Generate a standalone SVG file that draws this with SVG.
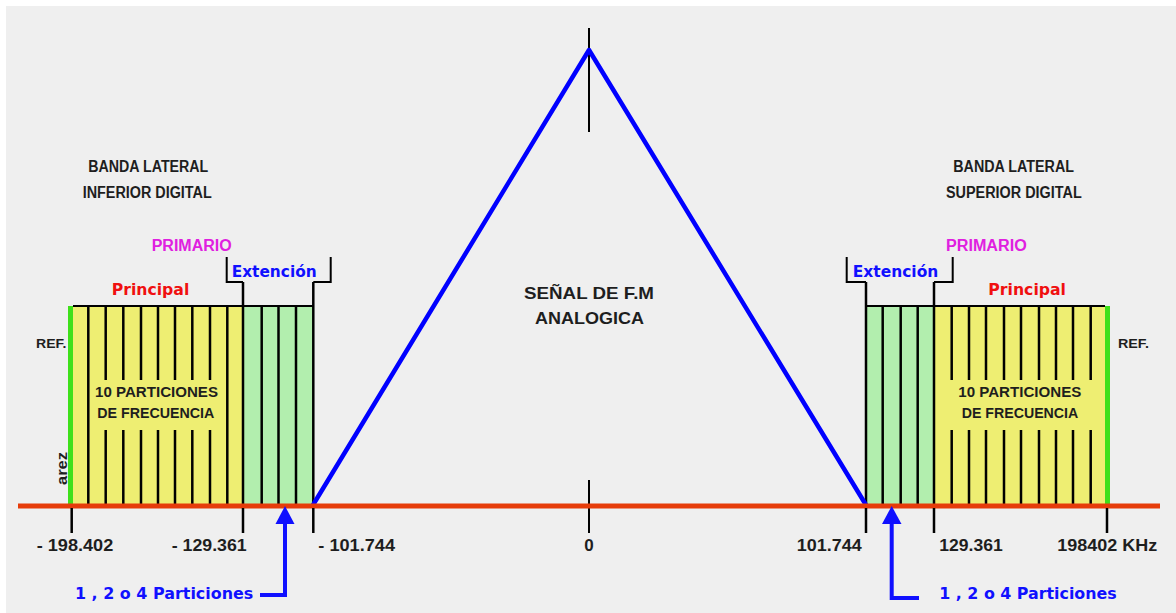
<svg xmlns="http://www.w3.org/2000/svg" width="1176" height="613" viewBox="0 0 1176 613">
<style>
.lbl{font-family:"Liberation Sans",Arial,sans-serif;font-weight:bold;fill:#1e1e1e}
.blue{font-family:"DejaVu Sans","Liberation Sans",sans-serif;font-weight:bold;fill:#1010ff}
.red{font-family:"DejaVu Sans","Liberation Sans",sans-serif;font-weight:bold;fill:#f01010}
.mag{font-family:"Liberation Sans",Arial,sans-serif;font-weight:bold;fill:#e020e0}
.ln{stroke:#000;stroke-width:2.5;fill:none}
.thin{stroke:#000;stroke-width:2;fill:none}
.yel{fill:#eeee72}
.grn{fill:#b2eeae}
.bar{fill:#3ee01a}
.arr{stroke:#1010ff;stroke-width:4;fill:none}
.head{fill:#1010ff}
</style>
<rect x="0" y="0" width="1176" height="613" fill="#ffffff"/>
<rect x="6" y="6" width="1170" height="607" fill="#efefef"/>

<g id="lower-band">
  <rect class="yel" x="73" y="306" width="170" height="199"/>
  <rect class="grn" x="243" y="306" width="70" height="199"/>
  <rect class="bar" x="68" y="306" width="5" height="199"/>
  <path class="thin" d="M73 306 H313"/>
  <path class="ln" d="M88.3 306 V505 M227.3 306 V505 M243 282 V505 M261.7 306 V505 M278.5 306 V505 M296 306 V505 M313.3 282 V505"/>
  <path class="ln" d="M105.7 306 V380 M123.3 306 V380 M141 306 V380 M158 306 V380 M175 306 V380 M192.3 306 V380 M210 306 V380"/>
  <path class="ln" d="M105.7 430 V505 M123.3 430 V505 M141 430 V505 M158 430 V505 M175 430 V505 M192.3 430 V505 M210 430 V505"/>
  <path class="thin" d="M226.7 257 V282 H243 M330.7 257 V282 H313.3"/>
  <text class="lbl" x="95" y="397.3" font-size="14" textLength="123" lengthAdjust="spacingAndGlyphs">10 PARTICIONES</text>
  <text class="lbl" x="97.3" y="418.3" font-size="14" textLength="117" lengthAdjust="spacingAndGlyphs">DE FRECUENCIA</text>
  <text class="lbl" x="36" y="348.3" font-size="13" textLength="30.5" lengthAdjust="spacingAndGlyphs">REF.</text>
  <text class="lbl" transform="translate(67,485) rotate(-90)" font-size="15" textLength="33" lengthAdjust="spacingAndGlyphs">arez</text>
  <text class="lbl" x="88.3" y="172.3" font-size="16" textLength="120" lengthAdjust="spacingAndGlyphs">BANDA LATERAL</text>
  <text class="lbl" x="82.7" y="198.3" font-size="16" textLength="129" lengthAdjust="spacingAndGlyphs">INFERIOR DIGITAL</text>
  <text class="mag" x="151.7" y="250.7" font-size="16" textLength="80" lengthAdjust="spacingAndGlyphs">PRIMARIO</text>
  <text class="red" x="111.7" y="295" font-size="16" textLength="77.6" lengthAdjust="spacingAndGlyphs">Principal</text>
  <text class="blue" x="231.7" y="276.7" font-size="15" textLength="85" lengthAdjust="spacingAndGlyphs">Extención</text>
</g>

<g id="upper-band">
  <rect class="grn" x="866" y="306" width="68" height="199"/>
  <rect class="yel" x="934" y="306" width="171" height="199"/>
  <rect class="bar" x="1105" y="306" width="5" height="199"/>
  <path class="thin" d="M866 306 H1105"/>
  <path class="ln" d="M866 282 V505 M882.7 306 V505 M900.7 306 V505 M917.7 306 V505 M934 282 V505"/>
  <path class="ln" d="M951.7 306 V380 M969 306 V380 M986 306 V380 M1004 306 V380 M1021 306 V380 M1039 306 V380 M1056 306 V380 M1073 306 V380 M1090.7 306 V380"/>
  <path class="ln" d="M951.7 430 V505 M969 430 V505 M986 430 V505 M1004 430 V505 M1021 430 V505 M1039 430 V505 M1056 430 V505 M1073 430 V505 M1090.7 430 V505"/>
  <path class="thin" d="M846.7 257 V282 H866 M952.7 257 V282 H934"/>
  <text class="lbl" x="958.3" y="397.3" font-size="14" textLength="123" lengthAdjust="spacingAndGlyphs">10 PARTICIONES</text>
  <text class="lbl" x="961.7" y="418.3" font-size="14" textLength="116.6" lengthAdjust="spacingAndGlyphs">DE FRECUENCIA</text>
  <text class="lbl" x="1118" y="348.3" font-size="13" textLength="31" lengthAdjust="spacingAndGlyphs">REF.</text>
  <text class="lbl" x="953.3" y="172.3" font-size="16" textLength="120.7" lengthAdjust="spacingAndGlyphs">BANDA LATERAL</text>
  <text class="lbl" x="946" y="198.3" font-size="16" textLength="135.7" lengthAdjust="spacingAndGlyphs">SUPERIOR DIGITAL</text>
  <text class="mag" x="946" y="250.7" font-size="16" textLength="80.7" lengthAdjust="spacingAndGlyphs">PRIMARIO</text>
  <text class="red" x="988.3" y="295" font-size="16" textLength="77.7" lengthAdjust="spacingAndGlyphs">Principal</text>
  <text class="blue" x="852.7" y="276.7" font-size="15" textLength="85.6" lengthAdjust="spacingAndGlyphs">Extención</text>
</g>

<g id="fm-signal">
  <path class="thin" d="M589 28 V132"/>
  <path class="thin" d="M589 480 V533"/>
  <polyline points="313,505 589,50 866,505" fill="none" stroke="#0000ff" stroke-width="4.5" stroke-linejoin="round"/>
  <text class="lbl" x="524" y="299.3" font-size="17" textLength="130" lengthAdjust="spacingAndGlyphs">SEÑAL DE F.M</text>
  <text class="lbl" x="535" y="324" font-size="17" textLength="109" lengthAdjust="spacingAndGlyphs">ANALOGICA</text>
</g>

<g id="axis">
  <path d="M18 506 H1160" stroke="#e63c0a" stroke-width="5"/>
  <path class="ln" d="M71.7 508 V533 M243 508 V533 M313.3 508 V533 M866 508 V533 M934 508 V533 M1107 508 V533"/>
  <text class="lbl" x="36.7" y="550.7" font-size="17" textLength="76.6" lengthAdjust="spacingAndGlyphs">- 198.402</text>
  <text class="lbl" x="171.7" y="550.7" font-size="17" textLength="75" lengthAdjust="spacingAndGlyphs">- 129.361</text>
  <text class="lbl" x="318.3" y="550.7" font-size="17" textLength="76.7" lengthAdjust="spacingAndGlyphs">- 101.744</text>
  <text class="lbl" x="589" y="550.7" font-size="17" text-anchor="middle">0</text>
  <text class="lbl" x="796.7" y="550.7" font-size="17" textLength="65" lengthAdjust="spacingAndGlyphs">101.744</text>
  <text class="lbl" x="939.3" y="550.7" font-size="17" textLength="63.4" lengthAdjust="spacingAndGlyphs">129.361</text>
  <text class="lbl" x="1057.3" y="550.7" font-size="17" textLength="100" lengthAdjust="spacingAndGlyphs">198402 KHz</text>
</g>

<g id="connectors">
  <polyline class="arr" points="260,595 285,595 285,522"/>
  <polygon class="head" points="285,506 275.5,524 294.5,524"/>
  <polyline class="arr" points="919,598 891.7,598 891.7,522"/>
  <polygon class="head" points="891.7,506 882,524 901.5,524"/>
</g>

<g id="partition-labels">
  <text class="blue" x="75" y="599.3" font-size="16" textLength="178.3" lengthAdjust="spacingAndGlyphs">1 , 2 o 4 Particiones</text>
  <text class="blue" x="939.3" y="599.3" font-size="16" textLength="177.4" lengthAdjust="spacingAndGlyphs">1 , 2 o 4 Particiones</text>
</g>
</svg>
